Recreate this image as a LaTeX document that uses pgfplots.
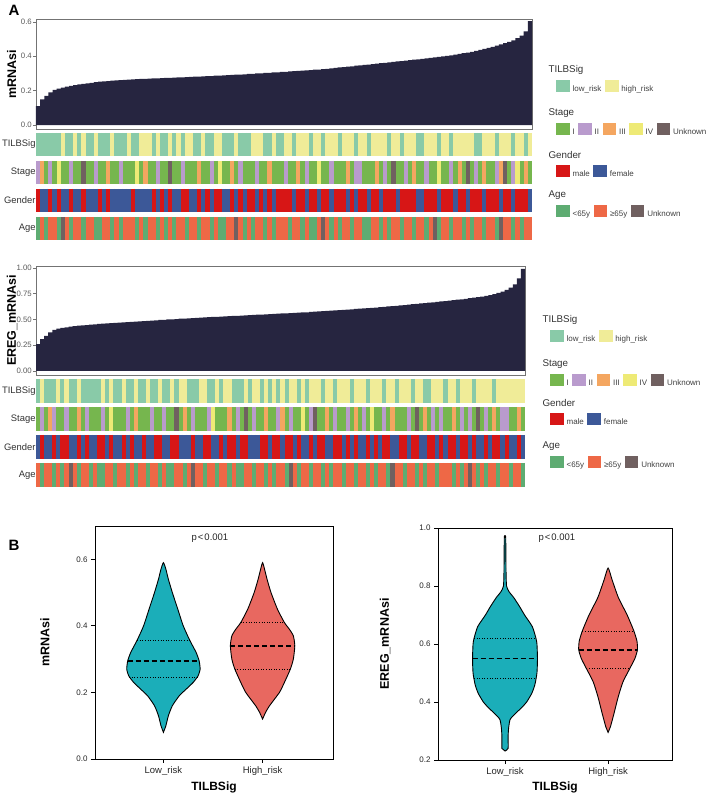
\documentclass[border=0pt]{standalone}
\usepackage{pgfplots}
\pgfplotsset{compat=1.18}
\usepackage{pgfplotstable}
\usepackage{fontspec}
\setmainfont{Liberation Sans}

\definecolor{cBar}{RGB}{38,37,64}
\definecolor{cLow}{RGB}{137,202,168}
\definecolor{cHigh}{RGB}{240,236,152}
\definecolor{cS1}{RGB}{118,182,78}
\definecolor{cS2}{RGB}{185,155,205}
\definecolor{cS3}{RGB}{244,166,96}
\definecolor{cS4}{RGB}{238,234,118}
\definecolor{cUnk}{RGB}{112,96,96}
\definecolor{cMale}{RGB}{215,22,22}
\definecolor{cFemale}{RGB}{60,88,152}
\definecolor{cY}{RGB}{94,172,114}
\definecolor{cO}{RGB}{238,104,70}
\definecolor{cTeal}{RGB}{27,174,185}
\definecolor{cSalmon}{RGB}{232,104,96}

\pgfplotstableread{
i v t s g a
0 0.110 l b m y
1 0.150 l c f o
2 0.170 l a f y
3 0.190 l b m o
4 0.205 l a f o
5 0.212 l d m y
6 0.218 h a f u
7 0.223 l a f o
8 0.228 l b m y
9 0.232 h a f o
10 0.236 l a f o
11 0.239 h u m y
12 0.242 l a f o
13 0.246 l a f o
14 0.249 h b f y
15 0.252 l a m y
16 0.254 l a f o
17 0.256 l c m o
18 0.258 h a f y
19 0.260 l a f o
20 0.262 l b f y
21 0.263 l a f o
22 0.264 h a f o
23 0.266 l a m o
24 0.267 l d f y
25 0.268 h a f o
26 0.269 h c f y
27 0.270 h a f o
28 0.271 l a m o
29 0.272 h b f y
30 0.273 l a m o
31 0.274 l a f y
32 0.275 h u m o
33 0.276 l a f y
34 0.277 h a f o
35 0.278 l b m o
36 0.279 h a m y
37 0.280 h a f o
38 0.281 l a f o
39 0.282 l c m y
40 0.283 h a f o
41 0.284 l a m o
42 0.285 l b f y
43 0.287 h a m o
44 0.288 h d m y
45 0.289 l a f y
46 0.290 l a f o
47 0.292 l c m o
48 0.293 h a f u
49 0.294 l b m o
50 0.295 l a f y
51 0.297 l a m o
52 0.298 h a m y
53 0.300 h b f o
54 0.301 h a m o
55 0.303 l a f y
56 0.304 l c m o
57 0.306 h a f y
58 0.307 l a m o
59 0.309 l a m o
60 0.310 h b m o
61 0.312 h a m y
62 0.313 l a f o
63 0.315 h c m o
64 0.316 h a m y
65 0.318 h b f o
66 0.320 l a m y
67 0.322 h a m y
68 0.323 h d f o
69 0.325 l a m u
70 0.327 h a m o
71 0.330 h b f y
72 0.332 h a m o
73 0.335 l a m y
74 0.337 h a m o
75 0.340 h c f o
76 0.342 h a m y
77 0.345 l b f o
78 0.347 h b m o
79 0.350 h a m y
80 0.352 l a f y
81 0.355 h a m o
82 0.357 h c m o
83 0.360 h a f y
84 0.362 h b m o
85 0.365 l a m y
86 0.367 h u m o
87 0.370 h a f o
88 0.372 l a m y
89 0.375 h b m o
90 0.377 h a m o
91 0.380 h c m y
92 0.382 l a f o
93 0.385 l a f o
94 0.388 h b m y
95 0.391 h a m o
96 0.394 h a m u
97 0.397 l d f y
98 0.400 h a m o
99 0.403 h a m o
100 0.406 l b m y
101 0.410 h a f o
102 0.414 h c m o
103 0.418 h a m y
104 0.422 h u f o
105 0.426 h a m y
106 0.431 l b m o
107 0.437 l a m o
108 0.443 h c f y
109 0.449 h a m o
110 0.455 h a m o
111 0.462 l b m y
112 0.469 h c f u
113 0.476 h u m o
114 0.484 h a m o
115 0.493 l b f y
116 0.505 h d m o
117 0.520 h a m y
118 0.545 l c m o
119 0.605 h a f o
}\topdata

\pgfplotstableread{
i v t s g a
0 0.260 l a f o
1 0.310 h b m y
2 0.340 l a f o
3 0.375 l c f o
4 0.400 l b m y
5 0.410 h a f o
6 0.418 l a m y
7 0.424 h b m o
8 0.430 l a f u
9 0.435 l a f o
10 0.440 h c m y
11 0.443 l a f o
12 0.446 l b m o
13 0.450 l a f y
14 0.453 l a f o
15 0.456 l a m y
16 0.459 h b m y
17 0.462 l a f o
18 0.465 h d m o
19 0.468 l a f y
20 0.470 l a f o
21 0.472 h a m o
22 0.475 l b f y
23 0.477 l a m o
24 0.480 h c f y
25 0.482 l a f o
26 0.484 l a m o
27 0.487 h a f y
28 0.489 l b f o
29 0.492 l a m o
30 0.495 h a m y
31 0.497 l b f o
32 0.500 l a f y
33 0.502 h a m y
34 0.504 l u m o
35 0.507 h a f o
36 0.509 h c f y
37 0.511 l a f o
38 0.513 l b m u
39 0.516 l a f o
40 0.518 h a f o
41 0.520 h a m y
42 0.522 l b m o
43 0.524 l d f o
44 0.526 h a f y
45 0.528 l a m o
46 0.530 h a f o
47 0.532 h c m y
48 0.534 l a m o
49 0.536 l b f y
50 0.538 l a m y
51 0.540 h u m o
52 0.542 l a f o
53 0.544 h b f y
54 0.546 h a f o
55 0.548 l a m o
56 0.550 h c m y
57 0.552 l a f o
58 0.554 h a m y
59 0.556 l b m o
60 0.558 h c f o
61 0.560 l a m y
62 0.562 h b m u
63 0.564 h a f o
64 0.566 l a m y
65 0.568 h d f o
66 0.570 l a f o
67 0.573 h b m y
68 0.575 h u f o
69 0.578 h a m o
70 0.580 l a m y
71 0.583 h c f o
72 0.586 h a f y
73 0.588 l b m o
74 0.591 h a m o
75 0.594 h a f y
76 0.596 h b m o
77 0.599 l a f o
78 0.602 h c m y
79 0.604 h a f o
80 0.607 h b f o
81 0.609 l a m y
82 0.612 h d f o
83 0.616 h a m y
84 0.619 h a f o
85 0.622 l b m o
86 0.626 h a m y
87 0.629 h c f u
88 0.633 l a f o
89 0.636 h a m o
90 0.640 h a m y
91 0.644 h b f o
92 0.648 l a m o
93 0.652 h u m y
94 0.655 h a f o
95 0.659 l c f y
96 0.663 l a m o
97 0.667 h b m o
98 0.671 h a f y
99 0.675 h b m o
100 0.678 l a f o
101 0.683 h a m o
102 0.687 h c m y
103 0.692 l a f o
104 0.696 h b m y
105 0.700 h a m o
106 0.706 h b f u
107 0.711 l a m o
108 0.717 h u f y
109 0.722 h a f o
110 0.730 h b m y
111 0.737 h a f o
112 0.745 l c m o
113 0.757 h a m y
114 0.770 h b f o
115 0.786 h b m o
116 0.810 h a f y
117 0.840 h a f o
118 0.900 h c m o
119 0.990 h a f y
}\botdata

\tikzset{legtitle/.style={anchor=west, font=\fontsize{9.8}{11}\selectfont, text=black!80, xshift=-11pt, yshift=10pt}}
\newcommand{\lt}[1]{\raisebox{3.8pt}{#1}}

\pgfplotsset{
  barax/.style={scale only axis, xmin=-0.5, xmax=119.5, xtick=\empty,
    axis line style={draw=black!55, line width=0.7pt}, ytick pos=left, tick align=outside,
    major tick length=3pt, tick style={black!55, line width=0.6pt},
    yticklabel style={font=\fontsize{7.8}{9}\selectfont, text=black!65, inner xsep=1pt},
    /pgf/number format/assume math mode=true,
    every axis y label/.style={at={(axis description cs:-0.049,0.5)}, rotate=90, anchor=center,
      font=\fontsize{12.5}{13}\selectfont\bfseries}},
  stripax/.style={scale only axis, xmin=-0.5, xmax=119.5, xtick=\empty,
    axis line style={draw=none}, major tick length=0pt,
    yticklabel style={font=\fontsize{9.4}{10}\selectfont, text=black!80, inner xsep=0.3pt}},
  strip/.style={scatter, only marks, mark=|, scatter src=explicit symbolic},
  tcl/.style={scatter/classes={l={draw=cLow}, h={draw=cHigh}}},
  scl/.style={scatter/classes={a={draw=cS1}, b={draw=cS2}, c={draw=cS3}, d={draw=cS4}, u={draw=cUnk}}},
  gcl/.style={scatter/classes={m={draw=cMale}, f={draw=cFemale}}},
  acl/.style={scatter/classes={y={draw=cY}, o={draw=cO}, u={draw=cUnk}}},
  legax/.style={hide axis, clip=false, scale only axis, width=10pt, height=10pt, anchor=north west,
    xmin=0, xmax=1, ymin=0, ymax=1, legend columns=-1,
    legend style={at={(0,1)}, anchor=north west, draw=none, fill=none, inner sep=0pt,
      font=\fontsize{8}{9}\selectfont, text=black!75,
      nodes={inner xsep=1pt, inner ysep=0pt},
      /tikz/every odd column/.append style={column sep=2.5pt},
      /tikz/every even column/.append style={column sep=2.5pt}},
    legend image code/.code={\fill[##1] (0pt,0pt) rectangle (12.5pt,11pt);}},
  violax/.style={scale only axis, axis line style={black, line width=0.9pt},
    tick style={black, line width=0.8pt}, tick align=outside, major tick length=4pt,
    xtick pos=bottom, ytick pos=left, xtick={1,2}, xticklabels={Low\_risk,High\_risk},
    xticklabel style={font=\fontsize{9.5}{10}\selectfont, text=black!85},
    yticklabel style={font=\fontsize{8}{9}\selectfont, text=black!85,
      /pgf/number format/fixed, /pgf/number format/precision=1, /pgf/number format/fixed zerofill},
    /pgf/number format/assume math mode=true,
    xlabel={TILBSig},
    every axis x label/.style={at={(axis description cs:0.5,-0.12)}, anchor=center,
      font=\fontsize{12}{13}\selectfont\bfseries}},
  vio/.style={draw=black, line width=0.9pt, smooth, tension=0.35},
  medl/.style={black, line width=1.8pt, dash pattern=on 5pt off 3pt},
  qline/.style={black, line width=0.7pt, dash pattern=on 1pt off 1.6pt}
}

\begin{document}
\begin{tikzpicture}
\path[use as bounding box] (0,0) rectangle (709pt,795pt);
\node[font=\fontsize{15}{15}\selectfont\bfseries] at (14pt,785pt) {A};
\node[font=\fontsize{15}{15}\selectfont\bfseries] at (14pt,250pt) {B};

% ---------- block 1 ----------
\begin{axis}[barax, width=496pt, at={(36pt,666pt)}, anchor=south west, height=110pt,
  ymin=-0.023, ymax=0.617, ytick={0,0.2,0.4,0.6},
  yticklabel style={/pgf/number format/fixed, /pgf/number format/precision=1, /pgf/number format/fixed zerofill},
  ylabel={mRNAsi}]
\addplot[ybar, bar width=1, fill=cBar, draw=none] table[x=i, y=v] {\topdata};
\end{axis}

\begin{axis}[stripax, width=496pt, at={(36pt,555pt)}, anchor=south west, height=107pt, ymin=0, ymax=107,
  ytick={11.5,39.5,67.5,95.5}, yticklabels={Age,Gender,Stage,TILBSig}]
\addplot[strip, tcl, mark size=11.5pt, mark options={line width=4.3pt}] table[x=i, y expr=95.5, meta=t] {\topdata};
\addplot[strip, scl, mark size=11.5pt, mark options={line width=4.3pt}] table[x=i, y expr=67.5, meta=s] {\topdata};
\addplot[strip, gcl, mark size=11.5pt, mark options={line width=4.3pt}] table[x=i, y expr=39.5, meta=g] {\topdata};
\addplot[strip, acl, mark size=11.5pt, mark options={line width=4.3pt}] table[x=i, y expr=11.5, meta=a] {\topdata};
\end{axis}

\begin{axis}[legax, at={(556pt,715pt)}, legend entries={\lt{low\_risk},\lt{high\_risk}}]
\addlegendimage{cLow}\addlegendimage{cHigh}
\node[legtitle] at (rel axis cs:0,1) {TILBSig};
\end{axis}
\begin{axis}[legax, at={(556pt,672pt)}, legend entries={\lt{I},\lt{II},\lt{III},\lt{IV},\lt{Unknown}}]
\addlegendimage{cS1}\addlegendimage{cS2}\addlegendimage{cS3}\addlegendimage{cS4}\addlegendimage{cUnk}
\node[legtitle] at (rel axis cs:0,1) {Stage};
\end{axis}
\begin{axis}[legax, at={(556pt,630pt)}, legend entries={\lt{male},\lt{female}}]
\addlegendimage{cMale}\addlegendimage{cFemale}
\node[legtitle] at (rel axis cs:0,1) {Gender};
\end{axis}
\begin{axis}[legax, at={(556pt,590pt)}, legend entries={\lt{{<}65y},\lt{≥65y},\lt{Unknown}}]
\addlegendimage{cY}\addlegendimage{cO}\addlegendimage{cUnk}
\node[legtitle] at (rel axis cs:0,1) {Age};
\end{axis}

% ---------- block 2 ----------
\begin{axis}[barax, width=489pt, at={(36pt,420pt)}, anchor=south west, height=109pt,
  ymin=-0.039, ymax=1.019, ytick={0,0.25,0.5,0.75,1},
  yticklabel style={/pgf/number format/fixed, /pgf/number format/precision=2, /pgf/number format/fixed zerofill},
  ylabel={EREG\_mRNAsi}]
\addplot[ybar, bar width=1, fill=cBar, draw=none] table[x=i, y=v] {\botdata};
\end{axis}

\begin{axis}[stripax, width=489pt, at={(36pt,308pt)}, anchor=south west, height=108pt, ymin=0, ymax=108,
  ytick={12,40,68,96}, yticklabels={Age,Gender,Stage,TILBSig}]
\addplot[strip, tcl, mark size=12pt, mark options={line width=4.2pt}] table[x=i, y expr=96, meta=t] {\botdata};
\addplot[strip, scl, mark size=12pt, mark options={line width=4.2pt}] table[x=i, y expr=68, meta=s] {\botdata};
\addplot[strip, gcl, mark size=12pt, mark options={line width=4.2pt}] table[x=i, y expr=40, meta=g] {\botdata};
\addplot[strip, acl, mark size=12pt, mark options={line width=4.2pt}] table[x=i, y expr=12, meta=a] {\botdata};
\end{axis}

\begin{axis}[legax, at={(550pt,465pt)}, legend entries={\lt{low\_risk},\lt{high\_risk}}]
\addlegendimage{cLow}\addlegendimage{cHigh}
\node[legtitle] at (rel axis cs:0,1) {TILBSig};
\end{axis}
\begin{axis}[legax, at={(550pt,421pt)}, legend entries={\lt{I},\lt{II},\lt{III},\lt{IV},\lt{Unknown}}]
\addlegendimage{cS1}\addlegendimage{cS2}\addlegendimage{cS3}\addlegendimage{cS4}\addlegendimage{cUnk}
\node[legtitle] at (rel axis cs:0,1) {Stage};
\end{axis}
\begin{axis}[legax, at={(550pt,382pt)}, legend entries={\lt{male},\lt{female}}]
\addlegendimage{cMale}\addlegendimage{cFemale}
\node[legtitle] at (rel axis cs:0,1) {Gender};
\end{axis}
\begin{axis}[legax, at={(550pt,339pt)}, legend entries={\lt{{<}65y},\lt{≥65y},\lt{Unknown}}]
\addlegendimage{cY}\addlegendimage{cO}\addlegendimage{cUnk}
\node[legtitle] at (rel axis cs:0,1) {Age};
\end{axis}

% ---------- panel B left ----------
\begin{axis}[violax, at={(95pt,36pt)}, anchor=south west, width=238pt, height=233pt,
  xmin=0.31, xmax=2.71, ymin=0, ymax=0.7, ytick={0,0.2,0.4,0.6},
  ylabel={mRNAsi},
  every axis y label/.style={at={(axis description cs:-0.21,0.5)}, rotate=90, anchor=center,
    font=\fontsize{12.5}{13}\selectfont\bfseries}]
\addplot[vio, fill=cTeal] coordinates {(1.000,0.080)(1.025,0.100)(1.050,0.130)(1.090,0.160)(1.160,0.190)(1.230,0.210)(1.300,0.230)(1.350,0.250)(1.370,0.270)(1.360,0.295)(1.330,0.320)(1.265,0.357)(1.200,0.400)(1.145,0.450)(1.090,0.500)(1.050,0.540)(1.025,0.570)(1.000,0.590)(0.975,0.570)(0.950,0.540)(0.910,0.500)(0.855,0.450)(0.800,0.400)(0.735,0.357)(0.670,0.320)(0.640,0.295)(0.630,0.270)(0.650,0.250)(0.700,0.230)(0.770,0.210)(0.840,0.190)(0.910,0.160)(0.950,0.130)(0.975,0.100)} --cycle;
\addplot[vio, fill=cSalmon] coordinates {(2.000,0.120)(2.030,0.140)(2.070,0.160)(2.170,0.200)(2.220,0.230)(2.280,0.270)(2.310,0.300)(2.325,0.340)(2.310,0.370)(2.270,0.390)(2.220,0.410)(2.150,0.450)(2.085,0.500)(2.045,0.540)(2.020,0.570)(2.000,0.590)(1.980,0.570)(1.955,0.540)(1.915,0.500)(1.850,0.450)(1.780,0.410)(1.730,0.390)(1.690,0.370)(1.675,0.340)(1.690,0.300)(1.720,0.270)(1.780,0.230)(1.830,0.200)(1.930,0.160)(1.970,0.140)} --cycle;
\addplot[qline] coordinates {(0.735,0.357)(1.265,0.357)};
\addplot[medl] coordinates {(0.640,0.295)(1.360,0.295)};
\addplot[qline] coordinates {(0.655,0.245)(1.345,0.245)};
\addplot[qline] coordinates {(1.780,0.410)(2.220,0.410)};
\addplot[medl] coordinates {(1.675,0.340)(2.325,0.340)};
\addplot[qline] coordinates {(1.720,0.270)(2.280,0.270)};
\node[font=\fontsize{9.5}{10}\selectfont, text=black!85] at (axis description cs:0.483,0.948) {p\kern1pt<\kern1pt0.001};
\end{axis}

% ---------- panel B right ----------
\begin{axis}[violax, at={(438pt,35pt)}, anchor=south west, width=234pt, height=232pt,
  xmin=0.35, xmax=2.62, ymin=0.2, ymax=1.0, ytick={0.2,0.4,0.6,0.8,1.0},
  ylabel={EREG\_mRNAsi},
  every axis y label/.style={at={(axis description cs:-0.226,0.5)}, rotate=90, anchor=center,
    font=\fontsize{12.5}{13}\selectfont\bfseries}]
\addplot[vio, fill=cTeal] coordinates {(1.000,0.231)(1.030,0.240)(1.030,0.280)(1.035,0.310)(1.050,0.340)(1.100,0.360)(1.160,0.380)(1.210,0.400)(1.260,0.430)(1.290,0.460)(1.310,0.500)(1.315,0.550)(1.310,0.600)(1.300,0.620)(1.265,0.660)(1.190,0.700)(1.140,0.730)(1.085,0.760)(1.040,0.780)(1.015,0.800)(1.010,0.850)(1.007,0.965)(1.000,0.972)(0.993,0.965)(0.990,0.850)(0.985,0.800)(0.960,0.780)(0.915,0.760)(0.860,0.730)(0.810,0.700)(0.735,0.660)(0.700,0.620)(0.690,0.600)(0.685,0.550)(0.690,0.500)(0.710,0.460)(0.740,0.430)(0.790,0.400)(0.840,0.380)(0.900,0.360)(0.950,0.340)(0.965,0.310)(0.970,0.280)(0.970,0.240)} --cycle;
\addplot[vio, fill=cSalmon] coordinates {(2.000,0.295)(2.023,0.315)(2.057,0.360)(2.100,0.420)(2.145,0.470)(2.210,0.515)(2.260,0.550)(2.285,0.580)(2.280,0.610)(2.250,0.645)(2.185,0.700)(2.100,0.760)(2.040,0.820)(2.000,0.862)(1.960,0.820)(1.900,0.760)(1.815,0.700)(1.750,0.645)(1.720,0.610)(1.715,0.580)(1.740,0.550)(1.790,0.515)(1.855,0.470)(1.900,0.420)(1.943,0.360)(1.977,0.315)} --cycle;
\addplot[qline] coordinates {(0.700,0.620)(1.300,0.620)};
\addplot[medl] coordinates {(0.685,0.550)(1.315,0.550)};
\addplot[qline] coordinates {(0.700,0.480)(1.300,0.480)};
\addplot[qline] coordinates {(1.750,0.645)(2.250,0.645)};
\addplot[medl] coordinates {(1.715,0.580)(2.285,0.580)};
\addplot[qline] coordinates {(1.790,0.515)(2.210,0.515)};
\node[font=\fontsize{9.5}{10}\selectfont, text=black!85] at (axis description cs:0.508,0.957) {p\kern1pt<\kern1pt0.001};
\end{axis}
\end{tikzpicture}
\end{document}
